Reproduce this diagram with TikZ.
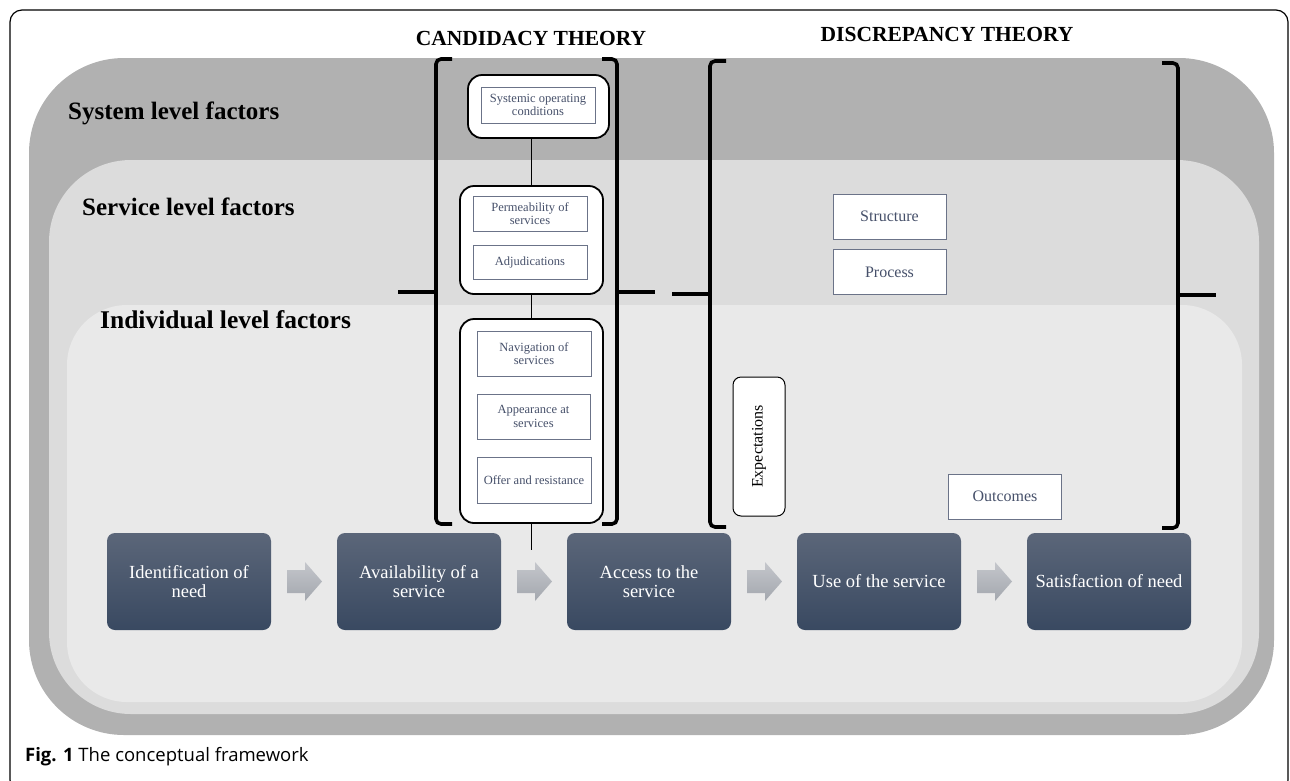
\documentclass[tikz,border=0pt]{standalone}
\usepackage{fontspec}
\setmainfont{Liberation Serif}
\newfontfamily\capfont{Open Sans}
\usetikzlibrary{positioning,calc}
\definecolor{sysgray}{HTML}{B1B1B1}
\definecolor{srvgray}{HTML}{DCDCDC}
\definecolor{indgray}{HTML}{E9E9E9}
\definecolor{flowtop}{HTML}{5B6679}
\definecolor{flowbot}{HTML}{394961}
\definecolor{arrtop}{HTML}{C4C6CB}
\definecolor{arrbot}{HTML}{A3A7AE}
\definecolor{innerline}{HTML}{6B7388}
\definecolor{innertext}{HTML}{46506A}
\tikzset{
  layerlabel/.style={anchor=base west, inner sep=0, font=\bfseries\fontsize{25}{28}\selectfont},
  header/.style={inner sep=0, font=\bfseries\fontsize{21.5}{24}\selectfont},
  flowbox/.style={rounded corners=8, top color=flowtop, bottom color=flowbot, draw=none,
     minimum width=164, minimum height=97, inner sep=2, text=white, align=center,
     font=\fontsize{18.5}{19.5}\selectfont},
  candbox/.style={draw=black, line width=1.8, fill=white, rounded corners=14, inner sep=0},
  innerbox/.style={draw=innerline, line width=0.9, fill=white, inner sep=1, align=center,
     text=innertext, font=\fontsize{12.5}{13.5}\selectfont},
  discbox/.style={draw=innerline, line width=0.9, fill=white, inner sep=1, align=center,
     text=innertext, font=\fontsize{16}{17}\selectfont, minimum width=113, minimum height=45},
  bracket/.style={line width=3.6, rounded corners=5, line cap=butt},
  link/.style={line width=1, draw=black},
  blockarrow/.style={top color=arrtop, bottom color=arrbot, draw=none}
}
\begin{document}
\begin{tikzpicture}[x=1pt, y=-1pt]
\useasboundingbox (0,0) rectangle (1290,780);
% frame
\draw[line width=1.2, rounded corners=12] (10,10) rectangle (1288,792);
% layers
\fill[sysgray, rounded corners=95] (29,58) rectangle (1274,735);
\fill[srvgray, rounded corners=82] (49,160) rectangle (1259,714);
\fill[indgray, rounded corners=60] (67,305) rectangle (1242,702);
% layer labels
\node[layerlabel] (lsys) at (68,119) {System level factors};
\node[layerlabel] (lsrv) at (82,215) {Service level factors};
\node[layerlabel, font=\bfseries\fontsize{25.5}{28}\selectfont] (lind) at (100,328) {Individual level factors};
% headers
\node[header] (hcand) at (531,38) {CANDIDACY THEORY};
\node[header] (hdisc) at (947,34) {DISCREPANCY THEORY};
% brackets
\draw[bracket] (452,59) -| (436,524) -- (452,524);
\draw[bracket] (436,292) -- (398,292);
\draw[bracket] (602,59) -| (617,524) -- (602,524);
\draw[bracket] (617,292) -- (655,292);
\draw[bracket] (726,61) -| (710,527) -- (726,527);
\draw[bracket] (710,294) -- (672,294);
\draw[bracket] (1162,63) -| (1178,528) -- (1162,528);
\draw[bracket] (1178,295) -- (1216,295);
% candidacy column
\node[candbox, minimum width=141, minimum height=63] (cb1) at (538.5,106.5) {};
\node[candbox, minimum width=143, minimum height=108] (cb2) at (531.5,240) {};
\node[candbox, minimum width=143, minimum height=204] (cb3) at (531.5,421) {};
\coordinate (cend) at (531.5,550);
\draw[link] (cb1.south -| cb2.north) -- (cb2.north);
\draw[link] (cb2.south) -- (cb3.north);
\draw[link] (cb3.south) -- (cend);
\node[innerbox, minimum width=114, minimum height=36] (soc) at (538,105) {Systemic operating\\conditions};
\node[innerbox, minimum width=114, minimum height=35] (perm) at (530,213.5) {Permeability of\\services};
\node[innerbox, minimum width=114, minimum height=34] (adj) at (530,262) {Adjudications};
\node[innerbox, minimum width=114, minimum height=45] (nav) at (534,353.5) {Navigation of\\services};
\node[innerbox, minimum width=113, minimum height=45] (app) at (533.5,416.5) {Appearance at\\services};
\node[innerbox, minimum width=114, minimum height=46] (off) at (534,480) {Offer and resistance};
% discrepancy column
\node[discbox] (str) at (889.5,216.5) {Structure};
\node[discbox] (proc) at (889.5,272) {Process};
\node[discbox] (outc) at (1005,496.5) {Outcomes};
\node[draw=black, line width=1, fill=white, rounded corners=8, minimum width=52, minimum height=139,
  inner sep=0] (expb) at (759,446.5) {};
\node[rotate=90, text=black, font=\fontsize{16}{18}\selectfont, inner sep=0] (expt) at (expb.center) {Expectations};
% flow boxes
\node[flowbox] (f1) at (189,581.5) {Identification of\\need};
\node[flowbox] (f2) at (419,581.5) {Availability of a\\service};
\node[flowbox] (f3) at (649,581.5) {Access to the\\service};
\node[flowbox] (f4) at (879,581.5) {Use of the service};
\node[flowbox] (f5) at (1109,581.5) {Satisfaction of need};
% block arrows
\foreach \a/\b/\n in {f1/f2/m1, f2/f3/m2, f3/f4/m3, f4/f5/m4}{
  \coordinate (\n) at ($(\a.east)!0.5!(\b.west)$);
}
\foreach \n in {m1,m2,m3,m4}{
  \shade[blockarrow] ([shift={(-17,-11.5)}]\n) -- ([shift={(1,-11.5)}]\n) -- ([shift={(1,-19.5)}]\n)
     -- ([shift={(18,0)}]\n) -- ([shift={(1,19.5)}]\n) -- ([shift={(1,11.5)}]\n)
     -- ([shift={(-17,11.5)}]\n) -- cycle;
}
% caption
\node[anchor=base west, inner sep=0, font=\capfont\fontsize{18.5}{20}\selectfont] (cap) at (25,761)
  {\textbf{Fig. 1} The conceptual framework};
\end{tikzpicture}
\end{document}
